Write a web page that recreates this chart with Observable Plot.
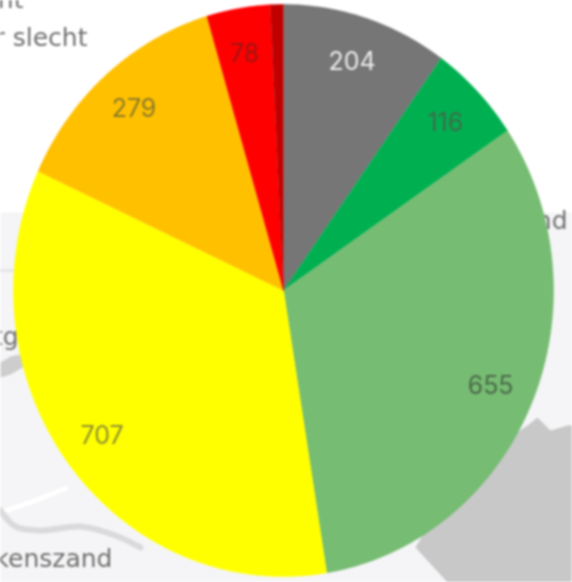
<!DOCTYPE html>
<html>
<head>
<meta charset="utf-8">
<style>
html,body{margin:0;padding:0;background:#fff;overflow:hidden}
#c svg{display:block;filter:blur(0.9px)}
</style>
<script src="https://cdn.jsdelivr.net/npm/d3@7"></script>
<script src="https://cdn.jsdelivr.net/npm/@observablehq/plot@0.6"></script>
</head>
<body>
<div id="c"></div>
<script>
const categories = ["Onbekend","Zeer goed","Goed","Matig","Onvoldoende","Slecht","Zeer slecht"];
const values = [204,116,655,707,279,78,16];
const shownLabels = ["204","116","655","707","279","78",""];
const sliceColors = ["#767676","#00b050","#76bc72","#ffff00","#ffc000","#ff0000","#c00000"];
const labelColors = ["#ececec","#3f6b4c","#4b6a4a","#8f8f33","#8a7a2a","#a01414","#000000"];

// faint base map behind the pie (picture units)
const landShape = [[415,547],[460,470],[527,425],[537,417],[550,430],[567,425],[572,425],[572,582],[447,582]];
const paleShape = [[0,212],[572,212],[572,582],[0,582]];
const leftBlob = [[0,362],[10,356],[24,353],[24,366],[10,374],[0,377]];
const road1 = [[0,510],[15,526],[40,530],[80,526],[115,535],[140,547]];
const road2 = [[0,270],[30,270]];
const road3 = [[0,512],[35,500],[65,488]];
const mapWords = [
  {t:"nt", x:23, y:7},
  {t:"r slecht", x:87, y:45},
  {t:"rtg", x:18, y:344},
  {t:"nd", x:567, y:228},
  {t:"kenszand", x:112, y:566}
];

const cx = 283, cy = 290, rx = 270, ry = 286, labelR = 0.84;
const arcs = d3.pie().sort(null).value(d => d)(values);
const pt = (a, r) => [cx + rx * r * Math.sin(a), cy - ry * r * Math.cos(a)];
const slicePoints = arcs.flatMap((s, i) => {
  const n = Math.max(2, Math.ceil((s.endAngle - s.startAngle) * 60));
  const ring = d3.range(n + 1).map(k => pt(s.startAngle + (s.endAngle - s.startAngle) * k / n, 1));
  return [[cx, cy], ...ring].map(p => ({k: categories[i], x: p[0], y: p[1]}));
});
const sliceLabels = arcs.map((s, i) => {
  const p = pt((s.startAngle + s.endAngle) / 2, labelR);
  return {t: shownLabels[i], c: labelColors[i], x: p[0], y: p[1]};
}).filter(d => d.t);

const chart = Plot.plot({
  width: 572, height: 582,
  margin: 0,
  style: {background: "#fff"},
  x: {domain: [0, 572], range: [0, 572], axis: null},
  y: {domain: [0, 582], range: [0, 582], axis: null},
  color: {domain: categories, range: sliceColors},
  marks: [
    Plot.line(paleShape, {x: d => d[0], y: d => d[1], fill: "#f5f5f7", stroke: "none"}),
    Plot.line(landShape, {x: d => d[0], y: d => d[1], fill: "#c8c8c8", stroke: "none"}),
    Plot.line(leftBlob, {x: d => d[0], y: d => d[1], fill: "#cdcdcd", stroke: "none"}),
    Plot.line(road3, {x: d => d[0], y: d => d[1], stroke: "#ffffff", strokeWidth: 5}),
    Plot.line(road1, {x: d => d[0], y: d => d[1], stroke: "#dadadc", strokeWidth: 6, curve: "catmull-rom"}),
    Plot.line(road2, {x: d => d[0], y: d => d[1], stroke: "#e6e6e8", strokeWidth: 3}),
    Plot.text(mapWords, {x: "x", y: "y", text: "t", textAnchor: "end", lineAnchor: "bottom",
      fontFamily: "DejaVu Sans", fontSize: 25, fill: "#707070"}),
    Plot.line(slicePoints, {x: "x", y: "y", z: "k", fill: "k", stroke: "k", strokeWidth: 0.5, curve: "linear"}),
    Plot.text(sliceLabels, {x: "x", y: "y", text: "t", fill: "c", dx: -1, dy: 0,
      fontFamily: "Inter", fontSize: 25})
  ]
});
document.getElementById("c").appendChild(chart);
</script>
</body>
</html>
